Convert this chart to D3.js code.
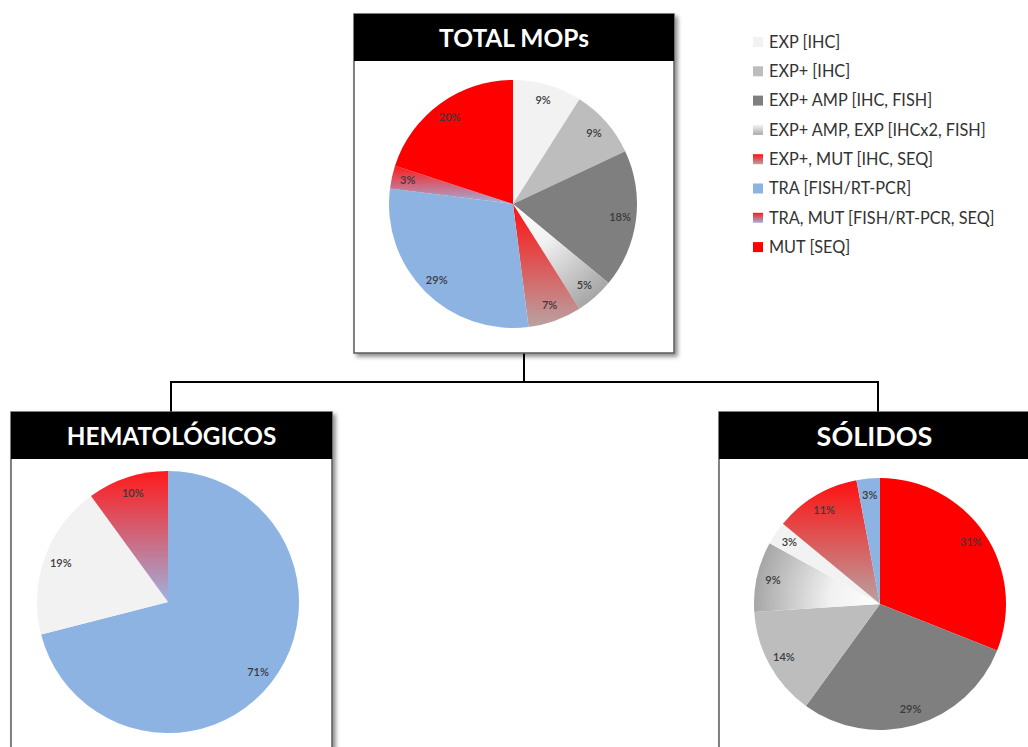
<!DOCTYPE html>
<html>
<head>
<meta charset="utf-8">
<script src="https://cdn.jsdelivr.net/npm/d3@7"></script>
<style>
  body { margin: 0; background: #fff; }
  svg { display: block; font-family: Lato, "Open Sans", sans-serif; }
</style>
</head>
<body>
<svg id="chart" width="1028" height="747"></svg>
<script>
// legend categories (all series use these)
const categories = ["EXP [IHC]", "EXP+ [IHC]", "EXP+ AMP [IHC, FISH]", "EXP+ AMP, EXP [IHCx2, FISH]",
    "EXP+, MUT [IHC, SEQ]", "TRA [FISH/RT-PCR]", "TRA, MUT [FISH/RT-PCR, SEQ]", "MUT [SEQ]"];

// TOTAL MOPs
const totalCats = ["EXP [IHC]", "EXP+ [IHC]", "EXP+ AMP [IHC, FISH]", "EXP+ AMP, EXP [IHCx2, FISH]",
    "EXP+, MUT [IHC, SEQ]", "TRA [FISH/RT-PCR]", "TRA, MUT [FISH/RT-PCR, SEQ]", "MUT [SEQ]"];
const totalValues = [9, 9, 18, 5, 7, 29, 3, 20];

// HEMATOLÓGICOS
const hematoCats = ["TRA [FISH/RT-PCR]", "EXP [IHC]", "TRA, MUT [FISH/RT-PCR, SEQ]"];
const hematoValues = [71, 19, 10];

// SÓLIDOS
const solidosCats = ["MUT [SEQ]", "EXP+ AMP [IHC, FISH]", "EXP+ [IHC]", "EXP+ AMP, EXP [IHCx2, FISH]",
    "EXP [IHC]", "EXP+, MUT [IHC, SEQ]", "TRA [FISH/RT-PCR]"];
const solidosValues = [31, 29, 14, 9, 3, 11, 3];

const svg = d3.select("#chart");
const defs = svg.append("defs");

// drop shadow for the boxes
const shadow = defs.append("filter").attr("id", "shadow")
    .attr("x", "-5%").attr("y", "-5%").attr("width", "115%").attr("height", "115%");
shadow.append("feDropShadow")
    .attr("dx", 3).attr("dy", 3).attr("stdDeviation", 2)
    .attr("flood-color", "#000").attr("flood-opacity", 0.45);

// vertical gradients (top -> bottom)
function linGrad(id, c1, c2) {
    const g = defs.append("linearGradient").attr("id", id)
        .attr("x1", 0).attr("y1", 0).attr("x2", 0).attr("y2", 1);
    g.append("stop").attr("offset", "0%").attr("stop-color", c1);
    g.append("stop").attr("offset", "100%").attr("stop-color", c2);
}
linGrad("g-expmut", "#ff1010", "#b9a2a2");
linGrad("g-tramut", "#ff1a1a", "#9fb2de");
linGrad("g-ampexp", "#f4f4f4", "#a8a8a8");

const solid = d3.scaleOrdinal()
    .domain(categories)
    .range(["#f2f2f2", "#bdbdbd", "#7f7f7f", null, null, "#8db3e2", null, "#ff0000"]);

function fillFor(cat, radialId) {
    if (cat === "EXP+, MUT [IHC, SEQ]") return "url(#g-expmut)";
    if (cat === "TRA, MUT [FISH/RT-PCR, SEQ]") return "url(#g-tramut)";
    if (cat === "EXP+ AMP, EXP [IHCx2, FISH]") return radialId ? "url(#" + radialId + ")" : "url(#g-ampexp)";
    return solid(cat);
}

//draw a framed box with black header
function drawBox(x0, y0, x1, y1, title, fontSize) {
    svg.append("rect")
        .attr("x", x0).attr("y", y0)
        .attr("width", x1 - x0).attr("height", y1 - y0)
        .attr("fill", "#fff")
        .attr("stroke", "#5a5a5a")
        .attr("stroke-width", 1.5)
        .attr("filter", "url(#shadow)");
    svg.append("rect")
        .attr("x", x0).attr("y", y0)
        .attr("width", x1 - x0).attr("height", 47)
        .attr("fill", "#000");
    svg.append("text")
        .attr("x", (x0 + x1) / 2)
        .attr("y", y0 + 24)
        .attr("dy", "0.36em")
        .attr("text-anchor", "middle")
        .attr("fill", "#fff")
        .attr("font-weight", "bold")
        .attr("font-size", fontSize)
        .text(title);
}

//draw one pie
function drawPie(cx, cy, r, cats, values, id) {
    const rg = defs.append("radialGradient").attr("id", "rg-" + id)
        .attr("gradientUnits", "userSpaceOnUse")
        .attr("cx", 0).attr("cy", 0).attr("r", r);
    rg.append("stop").attr("offset", "0%").attr("stop-color", "#ffffff");
    rg.append("stop").attr("offset", "40%").attr("stop-color", "#f1f1f1");
    rg.append("stop").attr("offset", "100%").attr("stop-color", "#a6a6a6");

    const data = cats.map((c, i) => ({cat: c, value: values[i]}));
    const pie = d3.pie().sort(null).value(d => d.value);
    const arc = d3.arc().innerRadius(0).outerRadius(r);
    const labelArc = d3.arc().innerRadius(r * 0.87).outerRadius(r * 0.87);

    const g = svg.append("g").attr("transform", `translate(${cx},${cy})`);
    g.selectAll("path")
        .data(pie(data)).enter()
        .append("path")
        .attr("d", arc)
        .attr("fill", d => fillFor(d.data.cat, "rg-" + id));

    g.selectAll("text")
        .data(pie(data)).enter()
        .append("text")
        .attr("transform", d => `translate(${labelArc.centroid(d)})`)
        .attr("text-anchor", "middle")
        .attr("dy", "0.35em")
        .attr("font-size", 11)
        .attr("font-weight", 600)
        .attr("fill", "#3a3a3a")
        .text(d => d.data.value + "%");
}

// connector lines
const conn = svg.append("g").attr("stroke", "#000").attr("stroke-width", 2).attr("fill", "none");
conn.append("path").attr("d", "M524,353V382M171,412V382H878V412");

drawBox(354, 14, 674, 353, "TOTAL MOPs", 24.5);
drawBox(11, 412, 332, 770, "HEMATOLÓGICOS", 24.3);
drawBox(719, 412, 1030, 770, "SÓLIDOS", 27);

drawPie(513, 204, 124, totalCats, totalValues, "total");
drawPie(168, 602, 131, hematoCats, hematoValues, "hemato");
drawPie(880, 604, 126, solidosCats, solidosValues, "solidos");

//legend
const legend = svg.append("g").attr("transform", "translate(753,42)");
const rows = legend.selectAll("g")
    .data(categories).enter()
    .append("g")
    .attr("transform", (d, i) => `translate(0,${i * 29.3})`);
rows.append("rect")
    .attr("x", 0).attr("y", -5)
    .attr("width", 10).attr("height", 10)
    .attr("fill", d => fillFor(d, null));
rows.append("text")
    .attr("x", 16)
    .attr("dy", "0.36em")
    .attr("font-size", 16.3)
    .attr("fill", "#333")
    .text(d => d);
</script>
</body>
</html>
